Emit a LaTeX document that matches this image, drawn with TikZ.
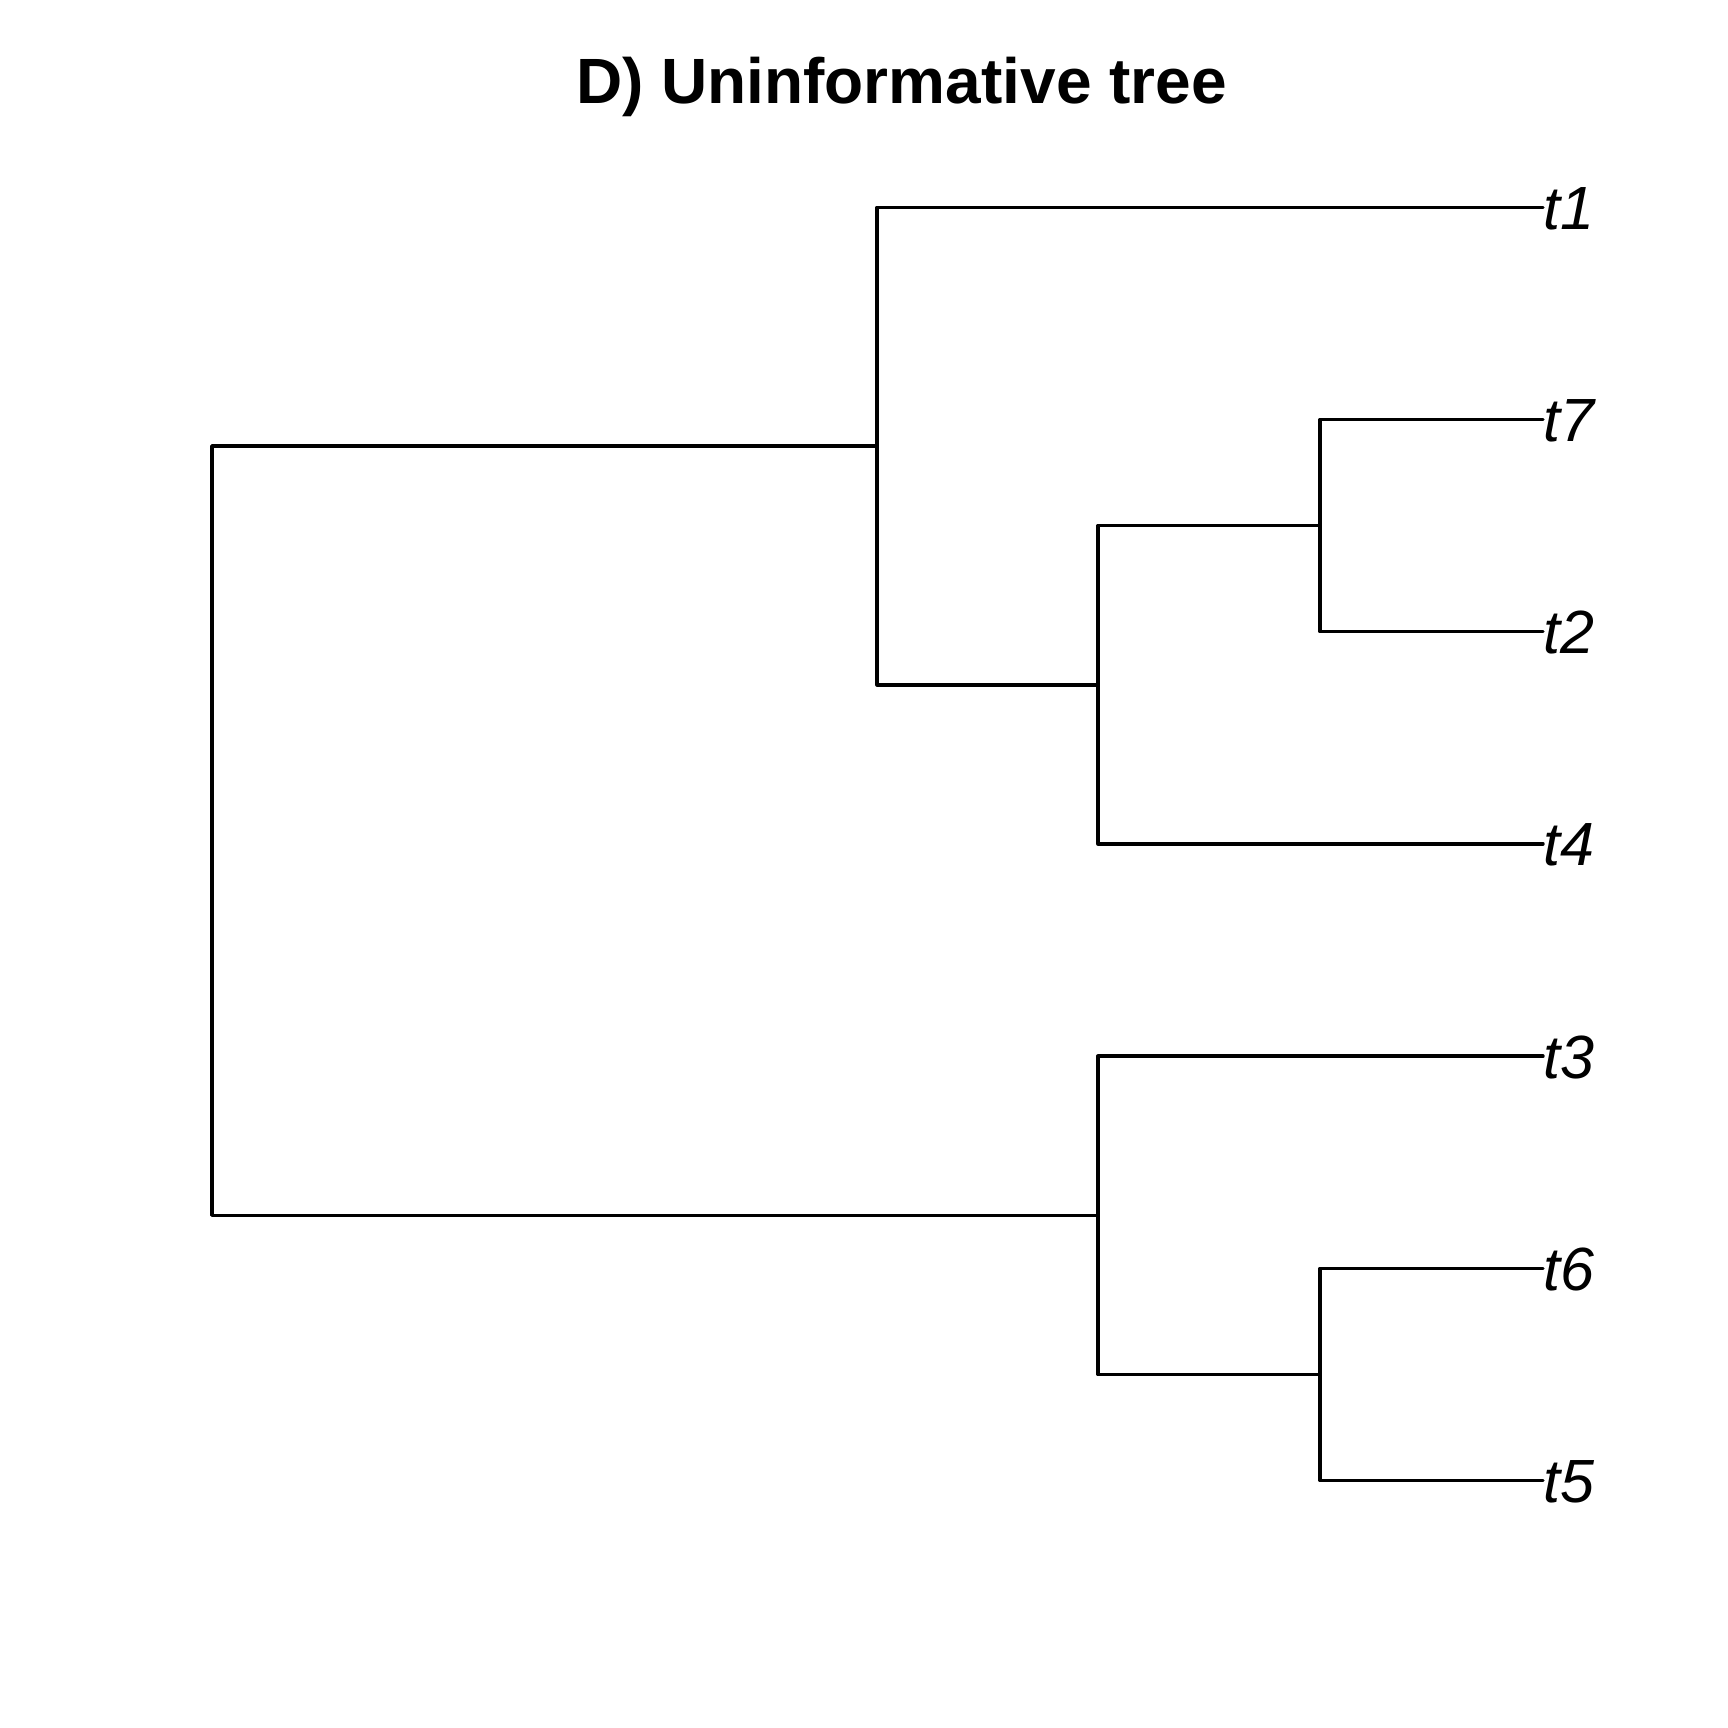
\documentclass[tikz,border=0pt]{standalone}
\usepackage{fontspec}
\setmainfont{Liberation Sans}
\begin{document}
\begin{tikzpicture}[x=1pt,y=-1pt,
  edge/.style={line width=3.4pt,line cap=round,line join=round,black},
  tiplabel/.style={anchor=base west,inner sep=0pt,yshift=-22pt,font=\fontsize{61}{72}\selectfont\itshape},
  titlelabel/.style={anchor=base,inner sep=0pt,font=\fontsize{64}{77}\selectfont\bfseries}]
\useasboundingbox[fill=white] (0,0) rectangle (1728,1728);
\node[titlelabel] (title) at (901.5,103.3) {D) Uninformative tree};
% internal nodes
\coordinate (root) at (212,830.6);
\coordinate (A) at (877,446.0);
\coordinate (B) at (1098,684.8);
\coordinate (C) at (1320,525.6);
\coordinate (Bp) at (1098,1215.3);
\coordinate (Cp) at (1320,1374.4);
% tips
\coordinate (t1) at (1543,207.3);
\coordinate (t7) at (1543,419.5);
\coordinate (t2) at (1543,631.7);
\coordinate (t4) at (1543,843.9);
\coordinate (t3) at (1543,1056.1);
\coordinate (t6) at (1543,1268.3);
\coordinate (t5) at (1543,1480.5);
\foreach \t in {t1,t7,t2,t4,t3,t6,t5}{\node[tiplabel] (l\t) at (\t) {\t};}
% edges
\draw[edge] (root) |- (A);
\draw[edge] (root) |- (Bp);
\draw[edge] (A) |- (t1);
\draw[edge] (A) |- (B);
\draw[edge] (B) |- (C);
\draw[edge] (B) |- (t4);
\draw[edge] (C) |- (t7);
\draw[edge] (C) |- (t2);
\draw[edge] (Bp) |- (t3);
\draw[edge] (Bp) |- (Cp);
\draw[edge] (Cp) |- (t6);
\draw[edge] (Cp) |- (t5);
\end{tikzpicture}
\end{document}
